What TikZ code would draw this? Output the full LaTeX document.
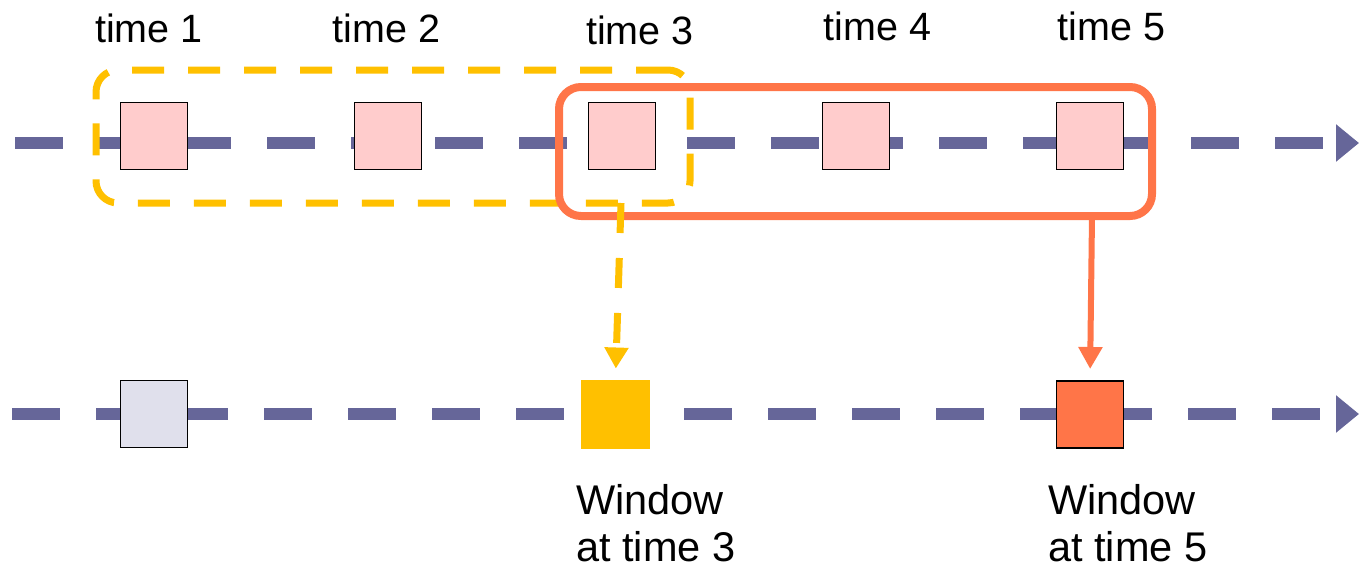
\documentclass[tikz,border=0pt]{standalone}
\usepackage{fontspec}
\setmainfont{Liberation Sans}
\usetikzlibrary{arrows.meta}
\definecolor{tlblue}{HTML}{666699}
\definecolor{pinkfill}{HTML}{FFCCCC}
\definecolor{greyfill}{HTML}{E0E0EC}
\definecolor{winyellow}{HTML}{FFC000}
\definecolor{winorange}{HTML}{FF7548}
\begin{document}
\begin{tikzpicture}[x=1pt,y=-1pt,
  timeline/.style={line width=12pt, draw=tlblue, line cap=butt, dash pattern=on 48pt off 36pt,
    -{Triangle[length=23pt,width=36pt]}},
  evbox/.style={draw=black, line width=1.6pt, minimum size=67pt, inner sep=0pt, outer sep=0pt},
  pinkbox/.style={evbox, fill=pinkfill},
  greybox/.style={evbox, fill=greyfill},
  orangebox/.style={evbox, fill=winorange},
  yellowbox/.style={fill=winyellow, minimum size=69pt, inner sep=0pt, outer sep=0pt},
  timelabel/.style={anchor=base, inner sep=0pt, font=\fontsize{39.5}{47}\selectfont},
  winlabel/.style={anchor=north west, inner sep=0pt, align=left, font=\fontsize{41.5}{47}\selectfont},
  yellowwin/.style={draw=winyellow, line width=7pt, dash pattern=on 32pt off 24pt, rounded corners=22pt,
    inner sep=0pt, outer sep=0pt},
  orangewin/.style={draw=winorange, line width=8pt, rounded corners=22pt, inner sep=0pt, outer sep=0pt},
  yellowarrow/.style={draw=winyellow, line width=7pt, dash pattern=on 30pt off 25pt,
    -{Triangle[length=21pt,width=23pt]}},
  orangearrow/.style={draw=winorange, line width=6pt, -{Triangle[length=22pt,width=23pt]}},
]
\useasboundingbox (0,0) rectangle (1359,570);
% timelines
\coordinate (topstart) at (15,143);
\coordinate (topend) at (1359,143);
\coordinate (botstart) at (12,414);
\coordinate (botend) at (1359,414);
\draw[timeline] (topstart) -- (topend);
\draw[timeline] (botstart) -- (botend);
% top events
\node[pinkbox] (e1) at (154,136) {};
\node[pinkbox] (e2) at (388,136) {};
\node[pinkbox] (e3) at (622,136) {};
\node[pinkbox] (e4) at (856,136) {};
\node[pinkbox] (e5) at (1090,136) {};
% bottom results
\node[greybox] (r1) at (154,414) {};
\node[yellowbox] (r3) at (615.5,414) {};
\node[orangebox] (r5) at (1090,414.5) {};
% time labels
\node[timelabel] (l1) at (149,42) {time 1};
\node[timelabel] (l2) at (386.5,42) {time 2};
\node[timelabel] (l3) at (640,44) {time 3};
\node[timelabel] (l4) at (877.5,40) {time 4};
\node[timelabel] (l5) at (1111.5,40) {time 5};
% windows
\node[yellowwin, minimum width=594pt, minimum height=133pt] (w3) at (393,136.5) {};
\node[orangewin, minimum width=593pt, minimum height=129pt] (w5) at (855.5,151.5) {};
% arrows
\coordinate (w3out) at (621,203);
\coordinate (w5out) at (1092,216);
\draw[yellowarrow, shorten >=11pt] (w3out) -- (r3.north);
\draw[orangearrow, shorten >=12pt] (w5out) -- (r5.north);
% window labels
\node[winlabel] (t3) at (576,484) {Window\\at time 3};
\node[winlabel] (t5) at (1048,484) {Window\\at time 5};
\end{tikzpicture}
\end{document}
